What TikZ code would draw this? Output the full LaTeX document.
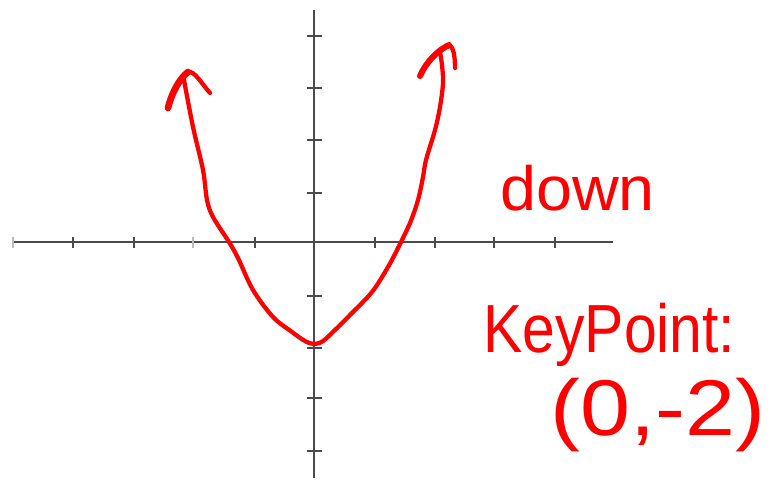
\documentclass[tikz,border=0pt]{standalone}
\usepackage{fontspec}
\usepackage{graphicx}
\setmainfont{Liberation Sans}
\definecolor{axisgray}{HTML}{4A4A4A}
\definecolor{lightgray}{HTML}{BBBBBB}
\definecolor{ink}{HTML}{FF0000}
\begin{document}
\begin{tikzpicture}[x=0.75pt,y=-0.75pt,
  axis/.style={draw=axisgray,line width=1.2pt},
  tick/.style={draw=axisgray,line width=1.2pt},
  faint/.style={draw=lightgray,line width=1.2pt},
  pen/.style={draw=ink,line width=3.2pt,line cap=round,line join=round},
  hand/.style={text=ink,inner sep=0pt,anchor=base west}]
\useasboundingbox[fill=white] (0,0) rectangle (775,479);
% axes
\coordinate (xl) at (12,242); \coordinate (xr) at (613,242);
\coordinate (yt) at (314,10); \coordinate (yb) at (314,478);
\draw[axis] (xl) -- (xr);
\draw[axis] (yt) -- (yb);
% x ticks
\foreach \x in {73,134,255,375,435,494,555} \draw[tick] (\x,237) -- (\x,248);
\foreach \x in {13,193} \draw[faint] (\x,237) -- (\x,248);
% y ticks
\foreach \y in {36,88,140,193,296,348,398,451} \draw[tick] (307,\y) -- (322,\y);
% parabola
\draw[pen] plot[smooth,tension=0.55] coordinates {(184,80) (193,127) (203,170) (207,200) (213,217) (229,242) (238,258) (253,290) (273,317) (292,332) (305,341) (314,344) (323,341) (336,329) (350,315) (372,292) (388,267) (398,248) (410,223) (418,200) (423,177) (426,160) (435,130) (440,107) (443,83) (442,65) (440,52)};
% arrowheads
\draw[pen,line width=5pt] (168,108) .. controls (172,92) and (180,78) .. (188,72);
\draw[pen] (188,72) .. controls (194,70) and (202,84) .. (210,93);
\draw[pen,line width=4.5pt] (420,76) .. controls (426,62) and (438,50) .. (449,45);
\draw[pen] (449,45) .. controls (454,47) and (455,58) .. (455,68);
% handwritten labels
\node[hand] (down) at (500,210) {\resizebox{116pt}{34pt}{down}};
\node[hand] (key) at (483,352) {\resizebox{189pt}{37pt}{KeyPoint:}};
\node[hand] (pt) at (550,435) {\resizebox{161pt}{43pt}{(0,-2)}};
\end{tikzpicture}
\end{document}
